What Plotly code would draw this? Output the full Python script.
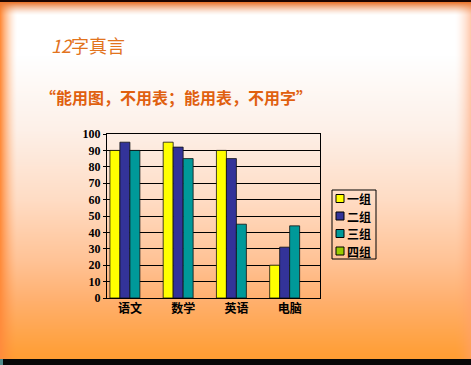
import base64, struct, zlib
import numpy as np
import plotly.graph_objects as go

# ---------------- data ----------------
categories = ["语文", "数学", "英语", "电脑"]
series_names = ["一组", "二组", "三组", "四组"]
group1 = [90, 95, 90, 20]
group2 = [95, 92, 85, 31]
group3 = [90, 85, 45, 44]
group4 = [None, None, None, None]
y_ticks = list(range(0, 101, 10))
series_values = [group1, group2, group3, group4]
series_colors = ["#FFFF00", "#333399", "#009999", "#99CC00"]

W, H = 471, 365
L, R, T, B = 107, 151, 134, 67
PW, PH = W - L - R, H - T - B


def px_x(x):
    return (x - L) / PW


def px_y(y):
    return 1 - (y - T) / PH


# ---------------- background (slide gradient) ----------------
def make_bg():
    yy = np.arange(H, dtype=float)
    stops = [0, 55, 130, 200, 260, 300, 356]
    rc = np.interp(yy, stops, [255, 255, 253, 255, 255, 255, 255])
    gc = np.interp(yy, stops, [255, 255, 240, 220, 195, 176, 158])
    bc = np.interp(yy, stops, [255, 255, 232, 196, 150, 110, 52])
    img = np.zeros((H, W, 3), float)
    img[:, :, 0] = rc[:, None]
    img[:, :, 1] = gc[:, None]
    img[:, :, 2] = bc[:, None]
    xx = np.arange(W, dtype=float)

    def blend(wmap, col):
        for k in range(3):
            img[:, :, k] = img[:, :, k] * (1 - wmap) + col[k] * wmap

    wl = np.clip(1 - xx / 17.0, 0, 1) ** 1.6
    blend(np.tile(wl, (H, 1)), (255, 140, 60))
    wr = np.clip(1 - (W - 1 - xx) / 16.0, 0, 1) ** 1.6 * 0.55
    blend(np.tile(wr, (H, 1)), (255, 160, 110))
    wt = np.clip(1 - (yy - 2) / 13.0, 0, 1) ** 1.5
    blend(np.tile(wt[:, None], (1, W)), (235, 120, 50))
    img[0:2, :, :] = (30, 5, 0)
    img[359:, :, :] = (8, 8, 8)
    img[359:, 0:3, :] = (80, 140, 140)
    return np.clip(img, 0, 255).astype(np.uint8)


def png_uri(arr):
    h, w, _ = arr.shape
    raw = b"".join(b"\x00" + arr[i].tobytes() for i in range(h))

    def chunk(tag, data):
        c = struct.pack(">I", len(data)) + tag + data
        return c + struct.pack(">I", zlib.crc32(tag + data) & 0xFFFFFFFF)

    png = b"\x89PNG\r\n\x1a\n" + chunk(b"IHDR", struct.pack(">IIBBBBB", w, h, 8, 2, 0, 0, 0))
    png += chunk(b"IDAT", zlib.compress(raw, 9)) + chunk(b"IEND", b"")
    return "data:image/png;base64," + base64.b64encode(png).decode()


fig = go.Figure()
for name, vals, col in zip(series_names, series_values, series_colors):
    fig.add_trace(go.Bar(
        x=categories, y=vals, name=name, showlegend=False,
        marker=dict(color=col, line=dict(color="#111111", width=0.8)),
    ))

# compact legend (box, swatches, labels)
step = 17.5
shapes = [dict(type="rect", xref="paper", yref="paper",
               x0=px_x(332), x1=px_x(376), y0=px_y(190), y1=px_y(259),
               line=dict(color="#000000", width=1), fillcolor="rgba(0,0,0,0)")]
annotations = []
for i, (name, col) in enumerate(zip(series_names, series_colors)):
    cy = 198.5 + i * step
    shapes.append(dict(type="rect", xref="paper", yref="paper",
                       x0=px_x(336), x1=px_x(344), y0=px_y(cy - 4), y1=px_y(cy + 4),
                       line=dict(color="#000000", width=1), fillcolor=col))
    annotations.append(dict(text=name, xref="paper", yref="paper",
                            x=px_x(346), y=px_y(cy), xanchor="left", yanchor="middle",
                            showarrow=False, borderpad=0,
                            font=dict(family="Noto Sans CJK SC", size=12, color="#000000",
                                      weight="bold")))

annotations += [
    dict(text="<i>12</i>字真言", xref="paper", yref="paper",
         x=px_x(49), y=px_y(45), xanchor="left", yanchor="middle",
         showarrow=False,
         font=dict(family="Noto Sans CJK SC", size=18, color="#E2741E")),
    dict(text="“能用图，不用表；能用表，不用字”", xref="paper", yref="paper",
         x=px_x(38), y=px_y(97), xanchor="left", yanchor="middle",
         showarrow=False,
         font=dict(family="Noto Sans CJK SC", size=16, color="#E0600F", weight="bold")),
]

fig.update_layout(
    width=W, height=H,
    margin=dict(l=L, r=R, t=T, b=B, pad=0),
    paper_bgcolor="rgba(0,0,0,0)",
    plot_bgcolor="rgba(0,0,0,0)",
    barmode="group", bargap=0.25, bargroupgap=0,
    showlegend=False,
    xaxis=dict(
        range=[-0.43, 3.57], showgrid=False, showline=True, linecolor="#000000",
        linewidth=1, mirror=True, ticks="",
        tickfont=dict(family="Noto Sans CJK SC", size=12, color="#000000", weight="bold"),
    ),
    yaxis=dict(
        range=[0, 100], tickvals=y_ticks, ticktext=[str(v) for v in y_ticks],
        showgrid=True, gridcolor="#000000", gridwidth=1,
        showline=True, linecolor="#000000", linewidth=1, mirror=True,
        ticks="outside", ticklen=3, tickcolor="#000000", zeroline=False,
        tickfont=dict(family="Liberation Serif", size=12, color="#000000", weight="bold"),
    ),
    images=[dict(
        source=png_uri(make_bg()), xref="paper", yref="paper",
        x=-L / PW, y=1 + T / PH, sizex=W / PW, sizey=H / PH,
        xanchor="left", yanchor="top", sizing="stretch", layer="below",
    )],
    shapes=shapes,
    annotations=annotations,
)

fig.write_html("out.html")
